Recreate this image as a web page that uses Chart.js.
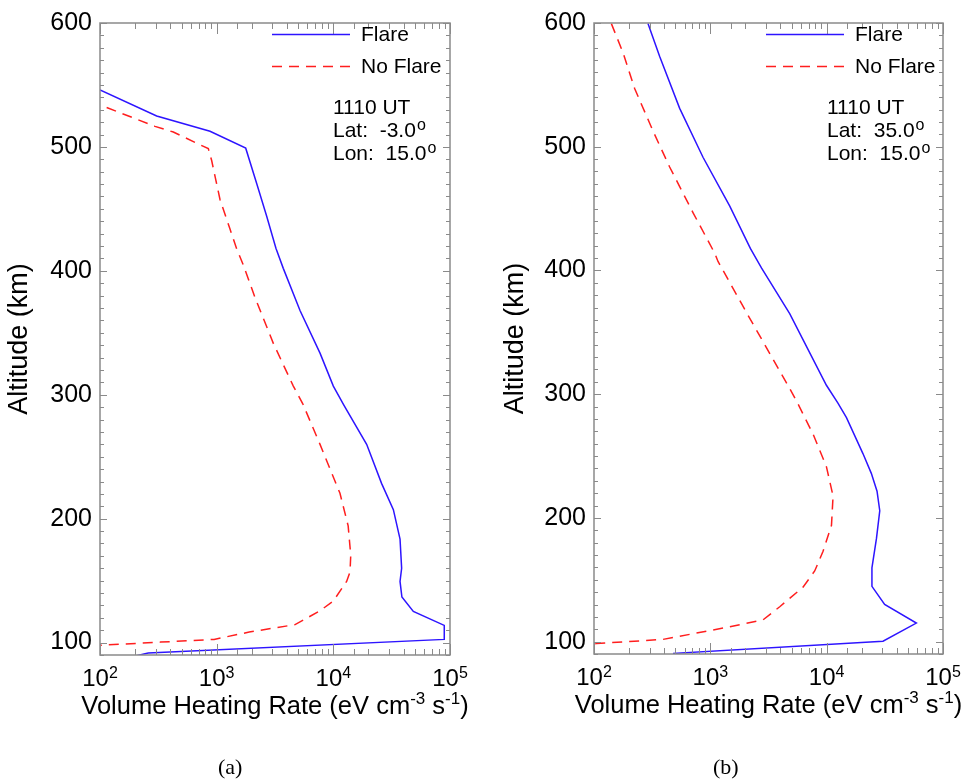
<!DOCTYPE html>
<html>
<head>
<meta charset="utf-8">
<script src="https://cdn.jsdelivr.net/npm/chart.js@4.4.1/dist/chart.umd.min.js"></script>
<style>
body { margin: 0; background: #fff; width: 967px; height: 784px; position: relative; overflow: hidden; }
canvas { position: absolute; top: 0; }
.cap { position: absolute; top: 754px; font: 22px "Liberation Serif", serif; color: #000; }
</style>
</head>
<body>
<canvas id="chartA" width="480" height="784" style="left:0px"></canvas>
<canvas id="chartB" width="477" height="784" style="left:490px"></canvas>
<div class="cap" style="left:218px">(a)</div>
<div class="cap" style="left:713px">(b)</div>
<script>
// panel (a): Lat -3.0, Lon 15.0
const flareA_alt = [546, 525, 512.6, 499, 470.5, 444, 418, 402, 368, 333.6, 307, 291.5, 260, 228.5, 207.3, 183.6, 160, 149.4, 136.8, 125.2, 113.9, 102.6, 91.6, 89.5]
const flareA_rate = [100, 306, 877, 1774, 2203, 2684, 3226, 3724, 5180, 7690, 10000, 12340, 19300, 25900, 32700, 37300, 38500, 37300, 38700, 48500, 89300, 89300, 259, 206]
const noFlareA_alt = [531.8, 516.6, 512, 498.6, 489, 457.4, 433.7, 417.9, 404.7, 378.4, 341.5, 307, 292.9, 260, 220.5, 194.2, 170.5, 157.1, 149.4, 133.6, 125.7, 114.5, 108.5, 102.6, 100.4, 97.8]
const noFlareA_rate = [114, 296, 425, 848, 906, 1069, 1301, 1483, 1692, 2133, 3060, 4540, 5460, 7690, 11400, 13400, 14100, 13900, 13000, 10000, 7690, 4700, 1900, 950, 330, 100]

// panel (b): Lat 35.0, Lon 15.0
const flareB_alt = [599.5, 573, 531, 491.5, 452, 417.8, 402, 365.1, 307.2, 292.7, 281, 252, 236, 221.6, 205.8, 183.4, 159.7, 144.7, 130, 115, 100.3, 90.5]
const flareB_rate = [291, 367, 545, 865, 1469, 2208, 2750, 4810, 9950, 12500, 14800, 20500, 24200, 27100, 28600, 26800, 24500, 24500, 31500, 59000, 30500, 478]
const noFlareB_alt = [599.5, 575.8, 546.8, 512.6, 483.6, 446.8, 413.8, 407.3, 363.8, 304.6, 292, 267.7, 241.4, 217.7, 194, 173, 157.1, 144, 128.2, 117.6, 111, 101.8, 98.4, 98.2]
const noFlareB_rate = [141, 178, 224, 322, 447, 709, 1092, 1164, 2108, 4810, 5680, 7640, 9950, 11350, 11000, 9310, 7890, 6260, 3950, 2840, 1290, 392, 105, 100]

const seriesNames = ['Flare', 'No Flare']
const timeLabel = '1110 UT'
const latA = '-3.0', latB = '35.0', lonA = '15.0', lonB = '15.0'

const FONT = '"Liberation Sans", Arial, sans-serif'
const BLUE = 'rgb(45,20,255)'
const RED = 'rgb(255,30,30)'

function pts(rates, alts) {
    return rates.map((r, i) => ({ x: r, y: alts[i] }))
}

function supText(ctx, parts, x, y, align) {
    // parts: [text, isSup]
    let w = 0
    parts.forEach(p => {
        ctx.font = (p[1] ? '17px ' : '25.5px ') + FONT
        w += ctx.measureText(p[0]).width
    })
    let cx = align === 'center' ? x - w / 2 : x
    ctx.textAlign = 'left'
    ctx.textBaseline = 'alphabetic'
    parts.forEach(p => {
        ctx.font = (p[1] ? '17px ' : '25.5px ') + FONT
        ctx.fillText(p[0], cx, p[1] ? y - 10 : y)
        cx += ctx.measureText(p[0]).width
    })
}

const frame = {
    id: 'frame',
    afterDraw(chart, args, opts) {
        const ctx = chart.ctx
        const a = chart.chartArea
        const xs = chart.scales.x
        const ys = chart.scales.y
        ctx.save()
        ctx.strokeStyle = '#8a8a8a'
        ctx.lineWidth = 1
        // tick marks, inward on all four sides
        ctx.beginPath()
        ys.ticks.forEach(t => {
            const py = Math.round(ys.getPixelForValue(t.value)) + 0.5
            const len = t.value % 100 === 0 ? 7 : 4
            ctx.moveTo(a.left, py); ctx.lineTo(a.left + len, py)
            ctx.moveTo(a.right, py); ctx.lineTo(a.right - len, py)
        })
        xs.ticks.forEach(t => {
            const lg = Math.log10(t.value)
            const major = Math.abs(lg - Math.round(lg)) < 1e-6
            const px = Math.round(xs.getPixelForValue(t.value)) + 0.5
            const len = major ? 11 : 6
            ctx.moveTo(px, a.bottom); ctx.lineTo(px, a.bottom - len)
            ctx.moveTo(px, a.top); ctx.lineTo(px, a.top + len)
        })
        ctx.stroke()
        ctx.lineWidth = 1.5
        ctx.strokeRect(a.left, a.top, a.right - a.left, a.bottom - a.top)

        ctx.fillStyle = '#000'
        // x tick labels 10^n
        xs.ticks.forEach(t => {
            const lg = Math.log10(t.value)
            if (Math.abs(lg - Math.round(lg)) > 1e-6) return
            const px = xs.getPixelForValue(t.value)
            ctx.font = '24px ' + FONT
            const w1 = ctx.measureText('10').width
            ctx.font = '16px ' + FONT
            const w2 = ctx.measureText(String(Math.round(lg))).width
            const x0 = px - (w1 + w2) / 2
            ctx.textAlign = 'left'
            ctx.textBaseline = 'alphabetic'
            ctx.font = '24px ' + FONT
            ctx.fillText('10', x0, a.bottom + 31)
            ctx.font = '16px ' + FONT
            ctx.fillText(String(Math.round(lg)), x0 + w1, a.bottom + 23)
        })
        // x axis title
        supText(ctx, [['Volume Heating Rate (eV cm', false], ['-3', true], [' s', false], ['-1', true], [')', false]],
            (a.left + a.right) / 2, a.bottom + 59, 'center')

        // legend
        const lx = a.left + 172
        ctx.lineWidth = 1.5
        ctx.strokeStyle = BLUE
        ctx.beginPath(); ctx.moveTo(lx, 34.5); ctx.lineTo(lx + 78, 34.5); ctx.stroke()
        ctx.strokeStyle = RED
        ctx.setLineDash([10, 7])
        ctx.beginPath(); ctx.moveTo(lx, 66.5); ctx.lineTo(lx + 78, 66.5); ctx.stroke()
        ctx.setLineDash([])
        ctx.font = '21px ' + FONT
        ctx.textAlign = 'left'
        ctx.textBaseline = 'alphabetic'
        ctx.fillText(seriesNames[0], a.left + 261, 41)
        ctx.fillText(seriesNames[1], a.left + 261, 72.5)

        // time / location note
        const nx = a.left + 233
        const lines = [[timeLabel, false], ['Lat:  ' + opts.lat, true], ['Lon:  ' + opts.lon, true]]
        lines.forEach((l, i) => {
            const by = 113.5 + i * 23.3
            ctx.font = '21px ' + FONT
            ctx.fillText(l[0], nx, by)
            if (l[1]) {
                const w = ctx.measureText(l[0]).width
                ctx.font = '16px ' + FONT
                ctx.fillText('o', nx + w + 1, by - 7)
            }
        })
        ctx.restore()
    }
}

function makeChart(id, flareRate, flareAlt, noRate, noAlt, pad, axisH, titlePad, lat, lon) {
    return new Chart(document.getElementById(id), {
        type: 'scatter',
        data: {
            datasets: [{
                label: seriesNames[0],
                data: pts(flareRate, flareAlt),
                showLine: true,
                borderColor: BLUE,
                borderWidth: 1.5,
                pointRadius: 0,
                tension: 0
            }, {
                label: seriesNames[1],
                data: pts(noRate, noAlt),
                showLine: true,
                borderColor: RED,
                borderWidth: 1.5,
                borderDash: [10, 7],
                pointRadius: 0,
                tension: 0
            }]
        },
        options: {
            responsive: false,
            animation: false,
            layout: { padding: pad },
            plugins: {
                legend: { display: false },
                tooltip: { enabled: false },
                frame: { lat: lat, lon: lon }
            },
            scales: {
                x: {
                    type: 'logarithmic',
                    min: 100,
                    max: 100000,
                    grid: { display: false, drawTicks: false },
                    border: { display: false },
                    ticks: { display: false },
                    afterFit: s => { s.height = axisH }
                },
                y: {
                    type: 'linear',
                    min: 90,
                    max: 600,
                    grid: { display: false, drawTicks: false },
                    border: { display: false },
                    ticks: {
                        stepSize: 10,
                        autoSkip: false,
                        padding: 8,
                        color: '#000',
                        font: { family: FONT, size: 25 },
                        callback: v => (v % 100 === 0 ? String(v) : '')
                    },
                    title: {
                        display: true,
                        text: 'Altitude (km)',
                        color: '#000',
                        font: { family: FONT, size: 27 },
                        padding: { top: titlePad, bottom: 0 }
                    },
                    afterFit: s => { s.width = 100 }
                }
            }
        },
        plugins: [frame]
    })
}

makeChart('chartA', flareA_rate, flareA_alt, noFlareA_rate, noFlareA_alt,
    { left: 0, right: 30, top: 9, bottom: 0 }, 129, 3, latA, lonA)
makeChart('chartB', flareB_rate, flareB_alt, noFlareB_rate, noFlareB_alt,
    { left: 4, right: 24, top: 10, bottom: 0 }, 130, 5, latB, lonB)
</script>
</body>
</html>
